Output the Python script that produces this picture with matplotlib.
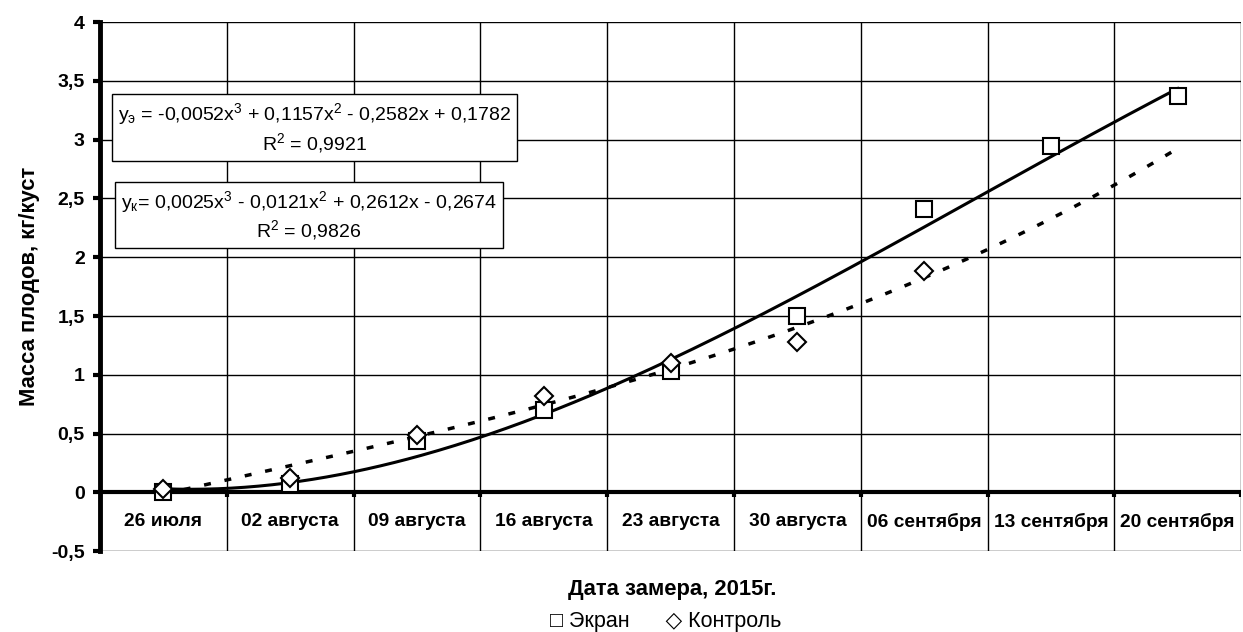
import numpy as np
import matplotlib.pyplot as plt

plt.rcParams['font.family'] = ['Liberation Sans', 'DejaVu Sans']
plt.rcParams['mathtext.fontset'] = 'custom'
plt.rcParams['mathtext.rm'] = 'Liberation Sans'
plt.rcParams['mathtext.it'] = 'Liberation Sans'

# Даты замеров и масса плодов, кг/куст
dates = ['26 июля', '02 августа', '09 августа', '16 августа', '23 августа',
         '30 августа', '06 сентября', '13 сентября', '20 сентября']
ekran = [0.0, 0.07, 0.44, 0.70, 1.03, 1.50, 2.41, 2.95, 3.37]
kontrol = [0.03, 0.12, 0.49, 0.82, 1.10, 1.28, 1.88]

# Коэффициенты полиномиальных трендов (3-я степень)
coef_ekran = [-0.0052, 0.1157, -0.2582, 0.1782]
coef_kontrol = [0.0025, -0.0121, 0.2612, -0.2674]
r2_ekran = 0.9921
r2_kontrol = 0.9826

yticks = [-0.5, 0, 0.5, 1, 1.5, 2, 2.5, 3, 3.5, 4]

fig = plt.figure(figsize=(12.43, 6.32), dpi=100)
ax = fig.add_axes([0.0805, 0.128, 0.918, 0.837])

n = len(dates)
ax.set_xlim(0.5, n + 0.5)
ax.set_ylim(-0.5, 4)

# сетка
for y in yticks:
    ax.axhline(y, color='black', lw=1, zorder=1)
for b in np.arange(0.5, n + 1, 1):
    ax.axvline(b, color='black', lw=1, zorder=1)
    ax.plot([b, b], [0, -0.04], color='black', lw=3, zorder=2, solid_capstyle='butt')
ax.axhline(0, color='black', lw=3, zorder=2)

for s in ['top', 'right', 'bottom']:
    ax.spines[s].set_visible(False)
ax.spines['left'].set_linewidth(3.5)

ax.set_xticks([])
ax.set_yticks(yticks)
ax.set_yticklabels([('%g' % v).replace('.', ',') for v in yticks],
                   fontsize=14, fontweight='bold')
ax.tick_params(axis='y', direction='out', length=5, width=3, pad=6)

for i, d in enumerate(dates):
    ax.text(i + 1, -0.25, d, ha='center', va='center', fontsize=13.8,
            fontweight='bold')

# линии тренда
xs = np.linspace(1, n, 300)
ax.plot(xs, np.polyval(coef_ekran, xs), color='black', lw=2.2, zorder=3)
ax.plot(xs, np.polyval(coef_kontrol, xs), color='black', lw=2.5,
        dashes=(2, 4), zorder=3)

x_e = np.arange(1, len(ekran) + 1)
x_k = np.arange(1, len(kontrol) + 1)
ax.plot(x_e, ekran, ls='none', marker='s', ms=12, mfc='white', mec='black',
        mew=1.5, zorder=4)
ax.plot(x_k, kontrol, ls='none', marker='D', ms=9, mfc='white', mec='black',
        mew=1.5, zorder=5)


def fmt(v):
    return ('%.4f' % abs(v)).replace('.', ',')


def equation(sub, c, gap):
    s = 'y$_{\\mathrm{%s}}$%s= %s%sx$^3$' % (sub, gap, '-' if c[0] < 0 else '', fmt(c[0]))
    s += ' %s %sx$^2$' % ('-' if c[1] < 0 else '+', fmt(c[1]))
    s += ' %s %sx' % ('-' if c[2] < 0 else '+', fmt(c[2]))
    s += ' %s %s' % ('-' if c[3] < 0 else '+', fmt(c[3]))
    return s


box = dict(boxstyle='square,pad=0.3', fc='white', ec='black', lw=1)
txt1 = equation('э', coef_ekran, ' ') + '\nR$^2$ = ' + fmt(r2_ekran)
txt2 = equation('к', coef_kontrol, '') + '\nR$^2$ = ' + fmt(r2_kontrol)
ax.text(0.188, 0.80, txt1, transform=ax.transAxes, ha='center', va='center',
        fontsize=14, multialignment='center', bbox=box, zorder=6,
        linespacing=1.2)
ax.text(0.183, 0.634, txt2, transform=ax.transAxes, ha='center', va='center',
        fontsize=14, multialignment='center', bbox=box, zorder=6,
        linespacing=1.2)

ax.set_ylabel('Масса плодов, кг/куст', fontsize=15.8, fontweight='bold',
              labelpad=8)
fig.text(672 / 1243, 1 - 590 / 632, 'Дата замера, 2015г.', ha='center',
         va='center', fontsize=15.8, fontweight='bold')

# легенда
fig.text(666 / 1243, 1 - 622 / 632, '□ Экран      ◇ Контроль', ha='center',
         va='center', fontsize=15.5)

fig.savefig('out.png', dpi=100)
